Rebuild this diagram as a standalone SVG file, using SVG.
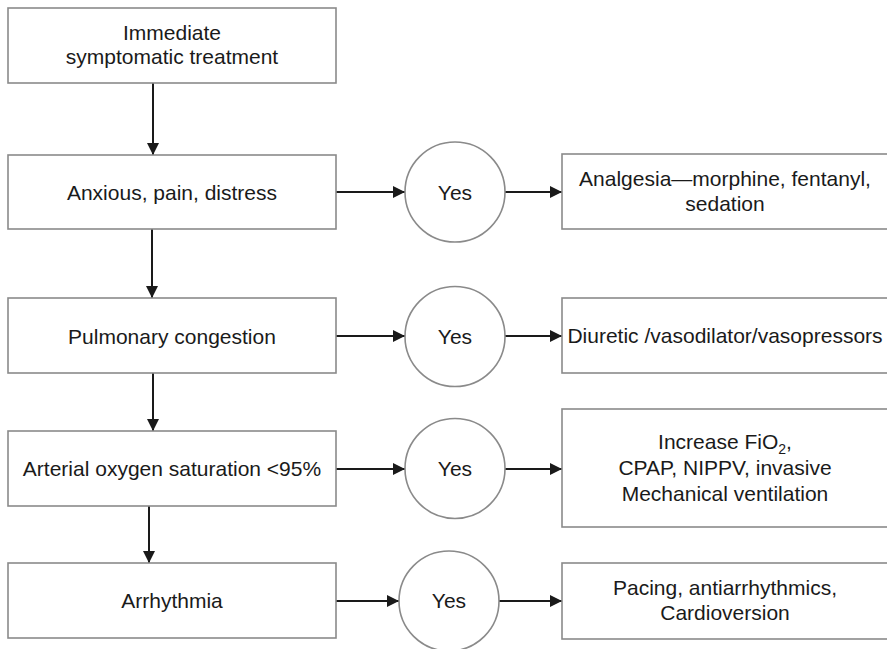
<svg xmlns="http://www.w3.org/2000/svg" width="887" height="649" viewBox="0 0 887 649">
<style>
.box{fill:#fff;stroke:#8a8a8a;stroke-width:1.6}
.circ{fill:#fff;stroke:#8a8a8a;stroke-width:1.6}
.t{font-family:"Liberation Sans",Arial,sans-serif;font-size:21px;fill:#1a1a1a;text-anchor:middle}
.c{stroke:#1a1a1a;stroke-width:2;fill:none;marker-end:url(#ah)}
</style>
<defs>
<marker id="ah" viewBox="0 0 10 10" refX="10" refY="5" markerWidth="6" markerHeight="6" orient="auto" markerUnits="strokeWidth">
<path d="M0,0 L10,5 L0,10 z" fill="#1a1a1a"/>
</marker>
</defs>
<rect width="887" height="649" fill="#fff"/>
<g id="connectors">
<line class="c" x1="153" y1="83" x2="153" y2="155"/>
<line class="c" x1="152" y1="229" x2="152" y2="298"/>
<line class="c" x1="153" y1="373" x2="153" y2="431"/>
<line class="c" x1="149" y1="506" x2="149" y2="563"/>
<line class="c" x1="336" y1="192" x2="405" y2="192"/>
<line class="c" x1="336" y1="336" x2="405" y2="336"/>
<line class="c" x1="336" y1="469" x2="405" y2="469"/>
<line class="c" x1="336" y1="601" x2="399" y2="601"/>
<line class="c" x1="505" y1="192" x2="562" y2="192"/>
<line class="c" x1="505" y1="336" x2="562" y2="336"/>
<line class="c" x1="505" y1="469" x2="562" y2="469"/>
<line class="c" x1="499" y1="601" x2="562" y2="601"/>
</g>
<g id="n-immediate">
<rect class="box" x="8" y="8" width="328" height="75"/>
<text class="t" x="172" y="40">Immediate</text>
<text class="t" x="172" y="64">symptomatic treatment</text>
</g>
<g id="n-anxious">
<rect class="box" x="8" y="155" width="328" height="74"/>
<text class="t" x="172" y="199.5">Anxious, pain, distress</text>
</g>
<g id="n-pulmonary">
<rect class="box" x="8" y="298" width="328" height="75"/>
<text class="t" x="172" y="343.5">Pulmonary congestion</text>
</g>
<g id="n-arterial">
<rect class="box" x="8" y="431" width="328" height="75"/>
<text class="t" x="172" y="476">Arterial oxygen saturation &lt;95%</text>
</g>
<g id="n-arrhythmia">
<rect class="box" x="8" y="563" width="328" height="75"/>
<text class="t" x="172" y="608">Arrhythmia</text>
</g>
<g id="y1">
<circle class="circ" cx="455" cy="192" r="50"/>
<text class="t" x="455" y="199.5">Yes</text>
</g>
<g id="y2">
<circle class="circ" cx="455" cy="336.5" r="50"/>
<text class="t" x="455" y="344">Yes</text>
</g>
<g id="y3">
<circle class="circ" cx="455" cy="468.5" r="50"/>
<text class="t" x="455" y="476">Yes</text>
</g>
<g id="y4">
<circle class="circ" cx="449" cy="601" r="50"/>
<text class="t" x="449" y="608">Yes</text>
</g>
<g id="r-analgesia">
<rect class="box" x="562" y="154" width="340" height="75"/>
<text class="t" x="725" y="186">Analgesia—morphine, fentanyl,</text>
<text class="t" x="725" y="211">sedation</text>
</g>
<g id="r-diuretic">
<rect class="box" x="562" y="298" width="340" height="75"/>
<text class="t" x="725" y="343">Diuretic /vasodilator/vasopressors</text>
</g>
<g id="r-oxygen">
<rect class="box" x="562" y="409" width="340" height="118"/>
<text class="t" x="725" y="449">Increase FiO<tspan font-size="14" dy="5">2</tspan><tspan dy="-5">,</tspan></text>
<text class="t" x="725" y="475">CPAP, NIPPV, invasive</text>
<text class="t" x="725" y="501">Mechanical ventilation</text>
</g>
<g id="r-pacing">
<rect class="box" x="562" y="563" width="340" height="76"/>
<text class="t" x="725" y="595">Pacing, antiarrhythmics,</text>
<text class="t" x="725" y="620">Cardioversion</text>
</g>
</svg>
